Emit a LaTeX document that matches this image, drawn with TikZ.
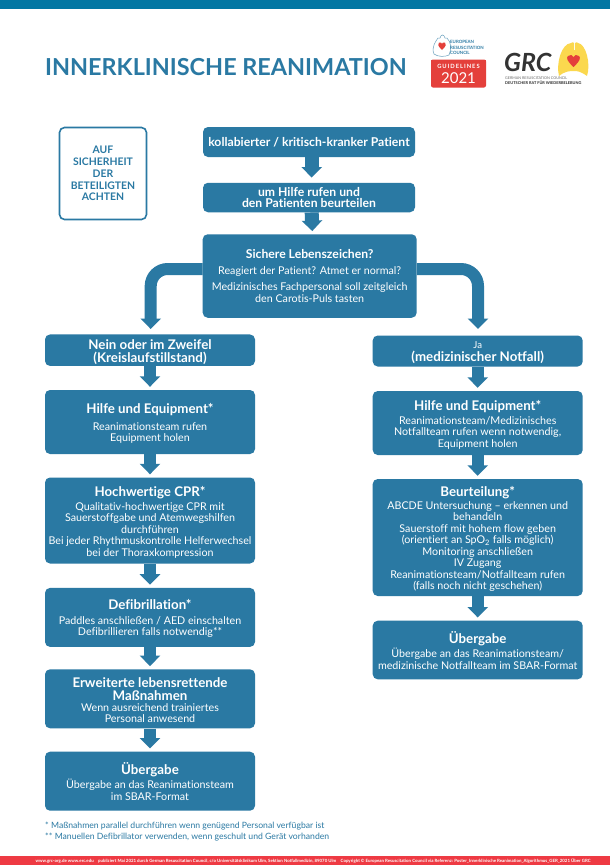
\documentclass[tikz,border=0pt]{standalone}
\usepackage{fontspec}
\setmainfont{Lato}[Ligatures=NoCommon]
\usetikzlibrary{arrows.meta,calc}
\lineskiplimit=-20pt
\definecolor{boxblue}{HTML}{2A79A3}
\definecolor{topbar}{HTML}{0277A3}
\definecolor{footred}{HTML}{EE3A43}
\definecolor{logored}{HTML}{E4403B}
\definecolor{lungy}{HTML}{FBD84E}
\tikzset{
 flow/.style={fill=boxblue,text=white,rounded corners=5pt,align=center,inner sep=0pt,font=\fontsize{10.7}{11.5}\selectfont},
 arr/.style={draw=boxblue,line width=12pt,shorten >=3pt,-{Triangle[width=20pt,length=10.5pt]}},
 bigarr/.style={draw=boxblue,line width=12pt,rounded corners=17pt,-{Triangle[width=20pt,length=10.5pt]}},
 note/.style={text=boxblue,anchor=west,inner sep=0pt,font=\fontsize{8.65}{10}\selectfont},
}
\newcommand{\hdA}[1]{{\fontsize{12.2}{14}\selectfont\bfseries #1}}
\newcommand{\hdB}[1]{{\rule{0pt}{13pt}\fontsize{13.3}{15.5}\selectfont\bfseries #1}}
\begin{document}
\begin{tikzpicture}[x=1pt,y=-1pt]
\useasboundingbox (0,0) rectangle (610,865);
\fill[white] (0,0) rectangle (610,865);
\fill[topbar] (0,0) rectangle (610,8.5);
\fill[footred] (0,856) rectangle (610,865);
\node[anchor=center,inner sep=0pt,text=white,font=\bfseries\fontsize{4.37}{5}\selectfont] (foot) at (313,860.5) {www.grc-org.de www.erc.edu\quad publiziert Mai 2021 durch German Resuscitation Council, c/o Universitätsklinikum Ulm, Sektion Notfallmedizin, 89070 Ulm\quad Copyright © European Resuscitation Council via Referenz: Poster\_Innerklinische Reanimation\_Algorithmus\_GER\_2021 Über GRC};
\node[anchor=west,inner sep=0pt,text=boxblue,font=\bfseries\fontsize{23.4}{26}\selectfont] (title) at (45,67) {INNERKLINISCHE REANIMATION};

% logos
\fill[logored,rounded corners=2pt] (431,59.5) rectangle (486,87.5);
\fill[logored] (431,59.5) rectangle (486,63);
\node[inner sep=0pt,text=white,font=\bfseries\fontsize{5.8}{6}\selectfont] (gl) at (458.5,66.5) {G\,U\,I\,D\,E\,L\,I\,N\,E\,S};
\node[inner sep=0pt,text=white,font=\fontsize{15}{16}\selectfont] (gy) at (458.5,78.5) {2021};
\draw[boxblue!70,line width=.5pt,fill=white] (434,54) .. controls (431,47) and (436,41) .. (438,38) -- (440,38) .. controls (441,34) and (444,34) .. (445,38) -- (447,38) .. controls (451,42) and (452,49) .. (449,55) .. controls (445,57) and (438,57) .. (434,54) -- cycle;
\fill[logored] (442,50) .. controls (438,46) and (437,44) .. (439,42.5) .. controls (440.5,41.5) and (442,43) .. (442,44) .. controls (442,43) and (443.5,41.5) .. (445,42.5) .. controls (447,44) and (446,46) .. (442,50) -- cycle;
\node[anchor=west,inner sep=0pt,text=boxblue,align=left,font=\bfseries\fontsize{4.4}{5.4}\selectfont] (erc) at (450,47.5) {EUROPEAN\\RESUSCITATION\\COUNCIL};
\fill[lungy] (559,76) .. controls (556,64) and (561,44) .. (571,43) .. controls (572,42) and (573,42) .. (574,43) -- (574,50) -- (575,50) -- (575,43) .. controls (576,42) and (577,42) .. (578,43) .. controls (586,44) and (591,64) .. (587,76) .. controls (580,71) and (577,71) .. (574,71) .. controls (570,71) and (565,71) .. (559,76) -- cycle;
\fill[logored] (573.5,67) .. controls (567,61) and (566,58) .. (568,56) .. controls (570,54) and (573,55) .. (573.5,57) .. controls (574,55) and (577,54) .. (579,56) .. controls (581,58) and (580,61) .. (573.5,67) -- cycle;
\node[anchor=west,inner sep=0pt,text=black!80,font=\bfseries\itshape\fontsize{25}{26}\selectfont] (grc) at (504,62) {GRC};
\node[anchor=west,inner sep=0pt,text=black!60,font=\fontsize{3.7}{4}\selectfont] (grc1) at (505,78) {GERMAN RESUSCITATION COUNCIL};
\node[anchor=west,inner sep=0pt,text=black!85,font=\bfseries\fontsize{3.9}{4}\selectfont] (grc2) at (505,82.5) {DEUTSCHER RAT FÜR WIEDERBELEBUNG};

% boxes
\node[flow,minimum width=212pt,minimum height=30pt] (a) at (309,142) {\hdA{kollabierter / kritisch-kranker Patient}};
\node[flow,minimum width=212pt,minimum height=29.5pt] (b) at (309,197.5) {\bfseries\fontsize{12.2}{11.7}\selectfont um Hilfe rufen und\\ \bfseries\fontsize{12.2}{11.7}\selectfont den Patienten beurteilen};
\node[flow,minimum width=214pt,minimum height=83.5pt] (c) at (309.7,276) {\hdA{Sichere Lebenszeichen?}\\[4.3pt]Reagiert der Patient? Atmet er normal?\\[4.5pt]Medizinisches Fachpersonal soll zeitgleich\\den Carotis-Puls tasten};
\node[draw=boxblue,line width=1.6pt,fill=white,text=boxblue,rounded corners=5pt,align=center,inner sep=0pt,minimum width=87pt,minimum height=92pt,font=\bfseries\fontsize{10.4}{11.85}\selectfont] (s) at (103,173.5) {AUF\\SICHERHEIT\\DER\\BETEILIGTEN\\ACHTEN};

\node[flow,minimum width=210pt,minimum height=31.5pt] (l1) at (150,350.2) {\hdB{Nein oder im Zweifel}\\[1.2pt]\hdB{(Kreislaufstillstand)}};
\node[flow,minimum width=210pt,minimum height=64pt] (l2) at (150,422) {\hdB{Hilfe und Equipment*}\\[5.3pt]Reanimationsteam rufen\\Equipment holen};
\node[flow,minimum width=210pt,minimum height=86pt] (l3) at (150,520.5) {\hdB{Hochwertige CPR*}\\[2.6pt]Qualitativ-hochwertige CPR mit\\Sauerstoffgabe und Atemwegshilfen\\durchführen\\Bei jeder Rhythmuskontrolle Helferwechsel\\bei der Thoraxkompression};
\node[flow,minimum width=210pt,minimum height=59pt] (l4) at (150,617.4) {\hdB{Defibrillation*}\\[3pt]Paddles anschließen / AED einschalten\\Defibrillieren falls notwendig**};
\node[flow,minimum width=210pt,minimum height=59pt] (l5) at (150,698.8) {\hdB{Erweiterte lebensrettende}\\[.9pt]\hdB{Maßnahmen}\\[-.7pt]Wenn ausreichend trainiertes\\Personal anwesend};
\node[flow,minimum width=210pt,minimum height=59pt] (l6) at (150,781.2) {\hdB{Übergabe}\\[2.6pt]Übergabe an das Reanimationsteam\\im SBAR-Format};

\node[flow,minimum width=210pt,minimum height=31pt] (r1) at (477.7,351) {{\rule{0pt}{10pt}\fontsize{9.6}{11}\selectfont Ja}\\[.6pt]\hdB{(medizinischer Notfall)}};
\node[flow,minimum width=210pt,minimum height=64pt] (r2) at (477.7,423) {\hdB{Hilfe und Equipment*}\\[2.6pt]Reanimationsteam/Medizinisches\\Notfallteam rufen wenn notwendig,\\Equipment holen};
\node[flow,minimum width=210pt,minimum height=117pt] (r3) at (477.7,537.5) {\hdB{Beurteilung*}\\[1.6pt]ABCDE Untersuchung – erkennen und\\behandeln\\Sauerstoff mit hohem flow geben\\(orientiert an SpO\textsubscript{2} falls möglich)\\Monitoring anschließen\\IV Zugang\\Reanimationsteam/Notfallteam rufen\\(falls noch nicht geschehen)};
\node[flow,minimum width=210pt,minimum height=58.6pt] (r4) at (477.7,650) {\hdB{Übergabe}\\[2.2pt]Übergabe an das Reanimationsteam/\\medizinische Notfallteam im SBAR-Format};

% arrows
\draw[arr,shorten >=5pt,line width=14pt] ([xshift=2.7pt]a.south) -- ([xshift=2.7pt]b.north);
\draw[arr,line width=14pt] ([xshift=2.7pt]b.south) -- ([xshift=2.7pt]c.north);
\coordinate (lc) at (150.7,329);
\coordinate (rc) at (478,329);
\draw[bigarr] ([yshift=7pt]c.west) -| (lc);
\draw[bigarr] ([yshift=7pt]c.east) -| (rc);
\draw[arr] (l1) -- (l2);
\draw[arr] (l2) -- (l3);
\draw[arr] (l3) -- (l4);
\draw[arr] (l4) -- (l5);
\draw[arr] (l5) -- (l6);
\draw[arr] (r1) -- (r2);
\draw[arr] (r2) -- (r3);
\draw[arr] (r3) -- (r4);

\node[note] (n1) at (45,825.7) {* Maßnahmen parallel durchführen wenn genügend Personal verfügbar ist};
\node[note] (n2) at (45,836.7) {** Manuellen Defibrillator verwenden, wenn geschult und Gerät vorhanden};
\end{tikzpicture}
\end{document}
